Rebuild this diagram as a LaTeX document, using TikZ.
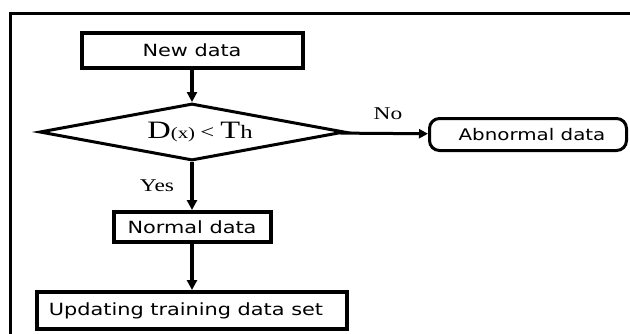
\documentclass[tikz,border=0pt]{standalone}
\usepackage{fontspec}
\usetikzlibrary{arrows.meta,shapes.geometric}
\newfontfamily\boxfont[FakeStretch=1.24]{DejaVu Sans}
\newfontfamily\wideserif[FakeStretch=1.3]{Liberation Serif}
\begin{document}
\begin{tikzpicture}[x=1pt,y=-1pt,
  procbox/.style={draw,line width=4pt,inner sep=0pt,
    font=\boxfont\fontsize{16.8}{19}\selectfont},
  endbox/.style={draw,line width=3pt,rounded corners=10pt,inner sep=0pt,
    font=\boxfont\fontsize{16}{19}\selectfont},
  decision/.style={diamond,draw,line width=3pt,inner sep=0pt,aspect=5.35},
  flow/.style={line width=4pt,-{Triangle[length=10pt,width=10pt]}},
  sideflow/.style={line width=3pt,-{Triangle[length=9pt,width=9pt]}},
  lbl/.style={font=\wideserif\fontsize{18}{20}\selectfont}]
\useasboundingbox (0,0) rectangle (630,333);
\clip (0,0) rectangle (630,333);
% outer frame
\draw[line width=3pt] (10,13) rectangle (680,380);

% nodes
\node[procbox,minimum width=221pt,minimum height=35pt] (new) at (192,50.5) {New data};
\node[decision,minimum width=305pt,minimum height=57pt] (dec) at (192,132)
  {\wideserif\hspace*{16pt}\fontsize{25}{27}\selectfont D\fontsize{16}{18}\selectfont(x)
   \fontsize{19}{20}\selectfont<
   \fontsize{25}{27}\selectfont T\fontsize{19}{20}\selectfont h};
\node[endbox,minimum width=197pt,minimum height=32pt] (abn) at (528,134.5)
  {\hspace*{8pt}Abnormal data};
\node[procbox,minimum width=157pt,minimum height=30pt] (norm) at (192,227) {Normal data};
\node[procbox,minimum width=310pt,minimum height=37pt] (upd) at (192,310.5)
  {Updating training data set\hspace*{12pt}};

% connectors
\draw[flow] (new) -- (dec);
\draw[sideflow] (dec) -- (abn);
\draw[flow] (dec) -- (norm);
\draw[flow] (norm) -- (upd);

% branch labels
\node[lbl] (no) at (388,114) {No};
\node[lbl] (yes) at (157,186) {Yes};
\end{tikzpicture}
\end{document}
